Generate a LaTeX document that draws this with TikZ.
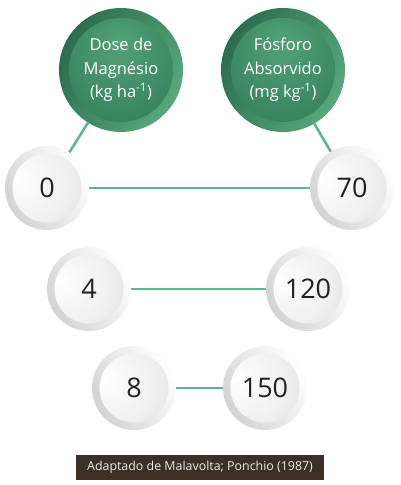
\documentclass[tikz,border=0pt]{standalone}
\usepackage{fontspec}
\setmainfont{Open Sans}
\usetikzlibrary{positioning}
\definecolor{ballgreen}{RGB}{52,128,92}
\definecolor{ringgreen}{RGB}{88,168,124}
\definecolor{linkgreen}{RGB}{98,180,138}
\definecolor{numgray}{RGB}{34,34,38}
\definecolor{capbrown}{RGB}{60,47,37}
\pgfdeclareradialshading{greenface}{\pgfpoint{10bp}{6bp}}{color(0bp)=(ringgreen!85!ballgreen); color(30bp)=(ballgreen); color(60bp)=(ballgreen!80!black)}
\pgfdeclareradialshading{greyface}{\pgfpoint{14bp}{14bp}}{color(0bp)=(white); color(25bp)=(gray!12); color(65bp)=(gray!50)}
\tikzset{
  greenball/.style={circle,inner sep=0pt,minimum size=124pt,
    left color=ballgreen!85!black,right color=ringgreen,shading angle=60,
    path picture={\shade[shading=greenface] (path picture bounding box.center) circle (52pt);},
    text=white,align=center,font=\fontsize{16.5}{23.5}\selectfont},
  greyball/.style={circle,inner sep=0pt,minimum size=84pt,
    left color=gray!35,right color=white,shading angle=120,
    path picture={\shade[shading=greyface] (path picture bounding box.center) circle (34.5pt);},
    text=numgray,font=\fontsize{27}{30}\selectfont},
  link/.style={draw=linkgreen,line width=2.6pt}
}
\begin{document}
\begin{tikzpicture}[x=1pt,y=1pt]
\useasboundingbox (0,0) rectangle (400,-485);
% headers
\node[greenball] (dose) at (121,-70) {Dose de\\Magnésio\\(kg ha\textsuperscript{-1})};
\node[greenball] (fosforo) at (283,-70) {Fósforo\\Absorvido\\(mg kg\textsuperscript{-1})};
% values
\node[greyball] (n0) at (47,-188) {0};
\node[greyball] (n70) at (352,-188) {70};
\node[greyball] (n4) at (89,-289) {4};
\node[greyball] (n120) at (308,-289) {120};
\node[greyball] (n8) at (134,-388) {8};
\node[greyball] (n150) at (265,-388) {150};
\draw[link] (dose) -- (n0);
\draw[link] (fosforo) -- (n70);
\draw[link] (n0) -- (n70);
\draw[link] (n4) -- (n120);
\draw[link] (n8) -- (n150);
\node[fill=capbrown,text=white!90!capbrown,minimum width=248pt,minimum height=25pt,
  font=\fontsize{12.4}{14}\selectfont] (fonte) at (200,-467.5) {Adaptado de Malavolta; Ponchio (1987)};
\end{tikzpicture}
\end{document}
